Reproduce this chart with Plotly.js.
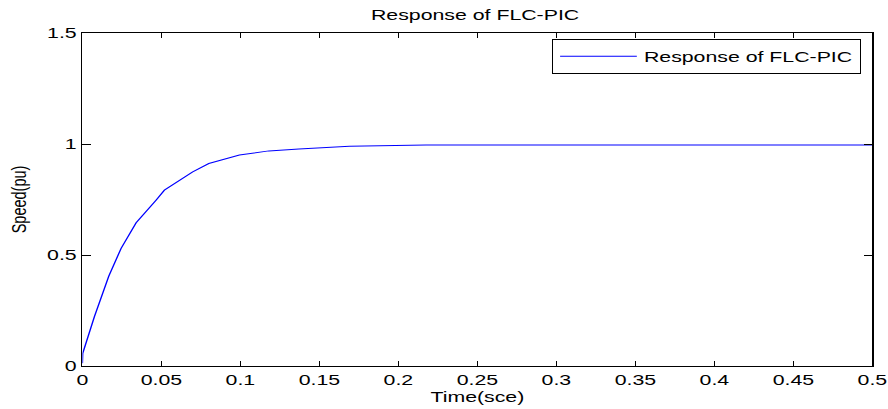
<!DOCTYPE html>
<html>
<head>
<meta charset="utf-8">
<script src="https://cdn.plot.ly/plotly-3.0.1.min.js"></script>
<style>
html,body{margin:0;padding:0;background:#fff;overflow:hidden;}
#wrap{width:888px;height:409px;overflow:hidden;}
#chart{width:625px;height:409px;transform:scaleX(1.4208);transform-origin:0 0;}
</style>
</head>
<body>
<div id="wrap"><div id="chart"></div></div>
<script>
// Time (s) and speed (pu)
const timeS = [0, 0.0002, 0.0076, 0.0167, 0.0245, 0.034, 0.0466, 0.0519, 0.0698, 0.080, 0.0994, 0.118, 0.137, 0.169, 0.2175, 0.5];
const speedPu = [0.012, 0.057, 0.222, 0.405, 0.53, 0.645, 0.747, 0.792, 0.874, 0.912, 0.950, 0.969, 0.977, 0.990, 0.995, 0.995];
const xTicks = [0, 0.05, 0.1, 0.15, 0.2, 0.25, 0.3, 0.35, 0.4, 0.45, 0.5];
const xTickText = ['0', '0.05', '0.1', '0.15', '0.2', '0.25', '0.3', '0.35', '0.4', '0.45', '0.5'];
const yTicks = [0, 0.5, 1, 1.5];
const yTickText = ['0', '0.5', '1', '1.5'];
const seriesName = 'Response of FLC-PIC';

const font = 'Liberation Sans, Arial, Helvetica, sans-serif';

const trace = {
  x: timeS, y: speedPu, type: 'scatter', mode: 'lines', name: seriesName,
  line: {color: '#0000ff', width: 1}
};

const axisCommon = {
  showline: true, linecolor: '#000', linewidth: 1, mirror: 'ticks',
  ticks: 'inside', tickcolor: '#000', tickwidth: 1,
  showgrid: false, zeroline: false,
  tickfont: {family: font, size: 15, color: '#000'}
};

const layout = {
  width: 625, height: 409,
  margin: {l: 58.4, r: 10.6, t: 33, b: 43},
  paper_bgcolor: '#fff', plot_bgcolor: '#fff',
  title: {text: 'Response of FLC-PIC', font: {family: font, size: 15, color: '#000'}, x: 0.535, xanchor: 'center', y: 0.965, yanchor: 'middle'},
  xaxis: Object.assign({}, axisCommon, {
    range: [0, 0.5], tickvals: xTicks, ticktext: xTickText, ticklen: 5,
    title: {text: 'Time(sce)', font: {family: font, size: 15, color: '#000'}, standoff: 2}
  }),
  yaxis: Object.assign({}, axisCommon, {
    range: [0, 1.5], tickvals: yTicks, ticktext: yTickText, ticklen: 6,
    title: {text: 'Speed(pu)', font: {family: font, size: 14.5, color: '#000'}, standoff: 10}
  }),
  showlegend: true,
  legend: {
    x: 0.986, xanchor: 'right', y: 0.982, yanchor: 'top',
    bordercolor: '#000', borderwidth: 1, bgcolor: '#fff',
    font: {family: font, size: 15, color: '#000'},
    itemwidth: 54
  }
};

Plotly.newPlot('chart', [trace], layout, {displayModeBar: false, staticPlot: true});
</script>
</body>
</html>
